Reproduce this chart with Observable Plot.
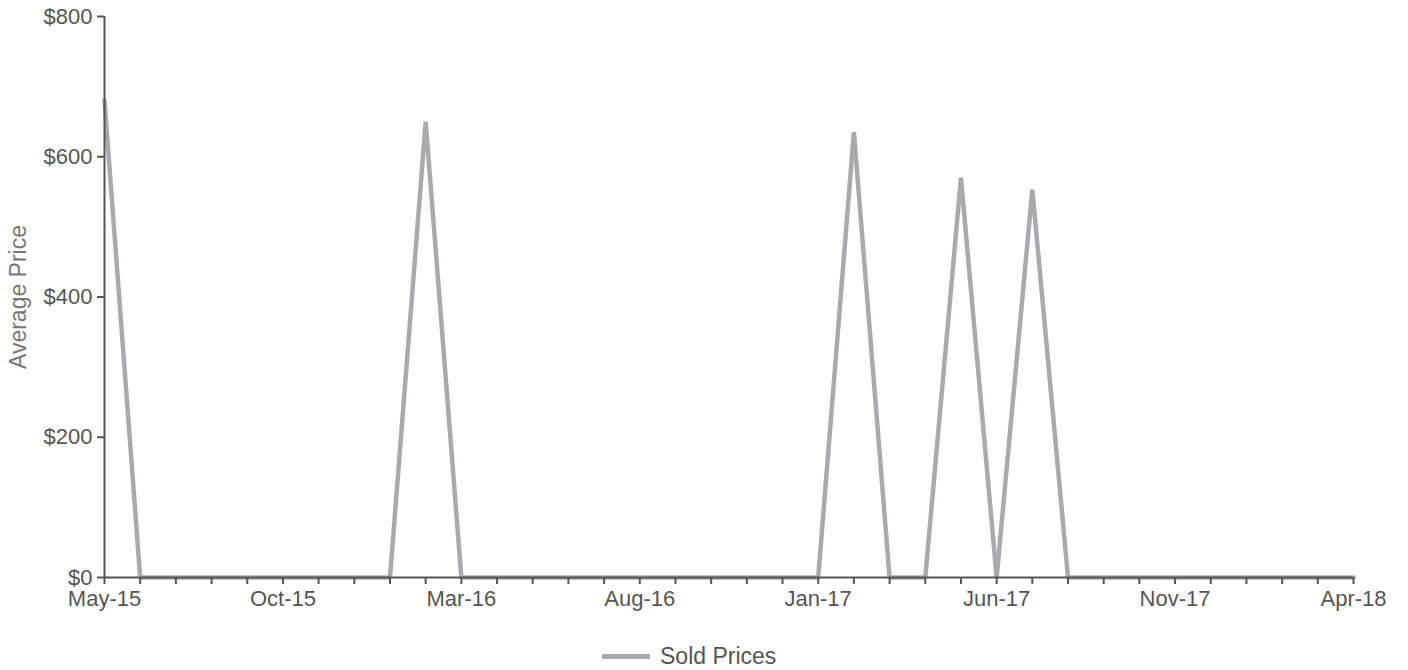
<!DOCTYPE html>
<html><head><meta charset="utf-8">
<script src="https://cdn.jsdelivr.net/npm/d3@7"></script>
<script src="https://cdn.jsdelivr.net/npm/@observablehq/plot@0.6"></script>
<style>
html,body{margin:0;padding:0;background:#fff;font-family:"Liberation Sans",Arial,sans-serif;}
#wrap{position:relative;width:1408px;height:670px;}
#legend{position:absolute;left:602px;top:642px;display:flex;align-items:center;height:28px;}
#legend .sw{width:48px;height:5px;background:#aaaaae;margin-right:10px;}
#legend .lb{font-size:23px;color:#555;}
</style></head><body>
<div id="wrap"><div id="chart"></div><div id="legend"><div class="sw"></div><div class="lb">Sold Prices</div></div></div>
<script>
const months = ["May-15","Jun-15","Jul-15","Aug-15","Sep-15","Oct-15","Nov-15","Dec-15","Jan-16","Feb-16","Mar-16","Apr-16","May-16","Jun-16","Jul-16","Aug-16","Sep-16","Oct-16","Nov-16","Dec-16","Jan-17","Feb-17","Mar-17","Apr-17","May-17","Jun-17","Jul-17","Aug-17","Sep-17","Oct-17","Nov-17","Dec-17","Jan-18","Feb-18","Mar-18","Apr-18"];
const prices = [680,0,0,0,0,0,0,0,0,650,0,0,0,0,0,0,0,0,0,0,0,635,0,0,570,0,553,0,0,0,0,0,0,0,0,0];
const yTicks = [0,200,400,600,800];
const xTickLabels = ["May-15","Oct-15","Mar-16","Aug-16","Jan-17","Jun-17","Nov-17","Apr-18"];
const seriesName = "Sold Prices";
const yLabel = "Average Price";

const data = months.map((m,i)=>({i, month:m, price:prices[i]}));
const idx = data.map(d=>d.i);

const plot = Plot.plot({
  width:1408, height:625,
  marginLeft:104, marginRight:55, marginTop:16, marginBottom:48,
  style:{fontFamily:"Liberation Sans, Arial, sans-serif", fontSize:"22px", color:"#555", background:"#fff", overflow:"visible"},
  x:{type:"linear", domain:[0, months.length-1]},
  y:{domain:[0,800]},
  marks:[
    Plot.line(data,{x:"i", y:"price", stroke:"#aaaaae", strokeWidth:4.5, strokeLinejoin:"bevel"}),
    Plot.ruleY([0],{stroke:"#555", strokeWidth:2}),
    Plot.ruleX([0],{stroke:"#555", strokeWidth:2}),
    Plot.axisX({ticks: idx, tickSize:7, tickPadding:6, stroke:"#555", strokeWidth:2, fill:"#555", fontSize:22,
      tickFormat: i => xTickLabels.includes(months[i]) ? months[i] : "", label:null}),
    Plot.axisY({ticks:yTicks, tickSize:7, tickPadding:5, stroke:"#555", strokeWidth:2, fill:"#555", fontSize:22,
      tickFormat: d => "$" + d, label:null}),
    Plot.text([yLabel],{frameAnchor:"left", textAnchor:"middle", dx:-86, rotate:-90, fill:"#777", fontSize:23, text:d=>d})
  ]
});
document.getElementById("chart").appendChild(plot);
</script>
</body></html>
